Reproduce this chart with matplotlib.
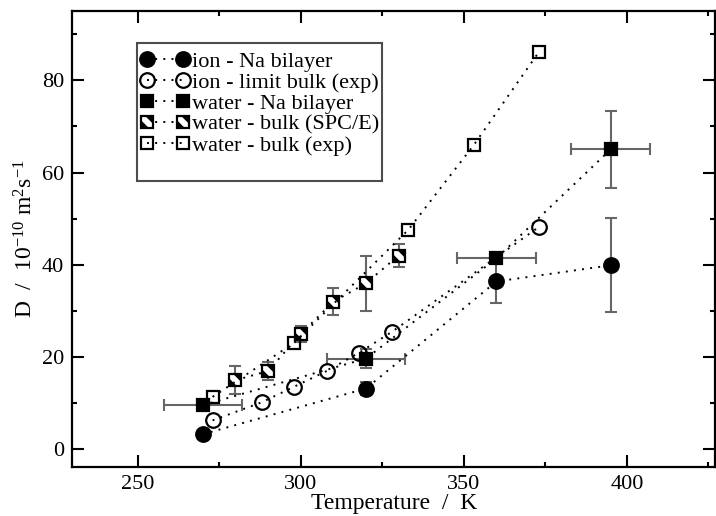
import numpy as np
import matplotlib
matplotlib.use("Agg")
import matplotlib.pyplot as plt
from matplotlib.path import Path
from matplotlib.patches import Rectangle
from matplotlib.ticker import MultipleLocator
from matplotlib.legend_handler import HandlerTuple

# ---- 字体 ----
plt.rcParams['font.family'] = ['Liberation Serif', 'DejaVu Serif']
plt.rcParams['mathtext.fontset'] = 'custom'
plt.rcParams['mathtext.rm'] = 'Liberation Serif'
plt.rcParams['mathtext.it'] = 'Liberation Serif:italic'

# ---- 数据 ----
ion_na_T = [270, 320, 360, 395]
ion_na_D = [3.3, 13.2, 36.4, 39.9]
ion_na_err = [0, 1.5, 4.7, 10.2]

ion_bulk_T = [273, 288, 298, 308, 318, 328, 373]
ion_bulk_D = [6.3, 10.2, 13.6, 17.0, 21.0, 25.5, 48.2]

wat_na_T = [270, 320, 360, 395]
wat_na_D = [9.6, 19.7, 41.4, 65.0]
wat_na_xerr = [12, 12, 12, 12]
wat_na_yerr = [0, 2.0, 0, 8.3]

spce_T = [280, 290, 300, 310, 320, 330]
spce_D = [15.0, 17.0, 25.0, 32.0, 36.0, 42.0]
spce_err = [3.0, 2.0, 1.7, 2.9, 6.0, 2.5]

exp_T = [273, 298, 333, 353, 373]
exp_D = [11.4, 23.1, 47.6, 65.9, 86.1]

labels = ['ion - Na bilayer', 'ion - limit bulk (exp)', 'water - Na bilayer',
          'water - bulk (SPC/E)', 'water - bulk (exp)']

# 斜纹方块: 两个黑三角, 中间留白
w = 0.35
tri_path = Path(
    [(-1, -1), (-1, w), (w, -1), (-1, -1),
     (1, 1), (1, -w), (-w, 1), (1, 1)],
    [Path.MOVETO, Path.LINETO, Path.LINETO, Path.CLOSEPOLY,
     Path.MOVETO, Path.LINETO, Path.LINETO, Path.CLOSEPOLY])

# ---- 画图 ----
W, H = 716, 516
fig = plt.figure(figsize=(W / 100, H / 100), dpi=100)
ax = fig.add_axes([72.3 / W, 49 / H, (715 - 72.3) / W, (467 - 11) / H])

ebkw = dict(fmt='none', ecolor='0.4', elinewidth=1.5, capsize=4.5, capthick=1.5, zorder=1)
ax.errorbar(ion_na_T, ion_na_D, yerr=ion_na_err, **ebkw)
ax.errorbar(wat_na_T, wat_na_D, xerr=wat_na_xerr, yerr=wat_na_yerr, **ebkw)
ax.errorbar(spce_T, spce_D, yerr=spce_err, **ebkw)

dot = (0, (1, 3.2))
lkw = dict(color='k', linestyle=dot, linewidth=1.4, markeredgecolor='k', markeredgewidth=1.6, zorder=3)

h1, = ax.plot(ion_na_T, ion_na_D, marker='o', markersize=10.5, markerfacecolor='k', **lkw)
h2, = ax.plot(ion_bulk_T, ion_bulk_D, marker='o', markersize=10.5, markerfacecolor='none', **lkw)
h3, = ax.plot(wat_na_T, wat_na_D, marker='s', markersize=9.3, markerfacecolor='k', **lkw)
h4a, = ax.plot(spce_T, spce_D, marker='s', markersize=9.3, markerfacecolor='white', **lkw)
h4b, = ax.plot(spce_T, spce_D, linestyle='none', marker=tri_path, markersize=9.3,
               markerfacecolor='k', markeredgewidth=0, zorder=4)
h5, = ax.plot(exp_T, exp_D, marker='s', markersize=9.3, markerfacecolor='none', **lkw)

ax.set_xlim(230, 427)
ax.set_ylim(-3.8, 95)
ax.xaxis.set_major_locator(MultipleLocator(50))
ax.xaxis.set_minor_locator(MultipleLocator(25))
ax.yaxis.set_major_locator(MultipleLocator(20))
ax.yaxis.set_minor_locator(MultipleLocator(10))
ax.tick_params(which='both', direction='in', top=True, right=True, width=1.5, labelsize=16)
ax.tick_params(which='major', length=8.6, pad=6)
ax.tick_params(which='minor', length=3.6)
for sp in ax.spines.values():
    sp.set_linewidth(1.6)

ax.set_xlabel('Temperature  /  K', fontsize=17, labelpad=-1)
ax.set_ylabel(r'D  /  10$^{-10}$ m$^{2}$s$^{-1}$', fontsize=17, labelpad=3)

# 图例 (无框, 框另外画)
leg = ax.legend([h1, h2, h3, (h4a, h4b), h5], labels,
                handler_map={tuple: HandlerTuple(ndivide=1)},
                loc='upper left', bbox_to_anchor=(140 / W, 1 - 51 / H),
                bbox_transform=fig.transFigure, borderaxespad=0, fontsize=16,
                numpoints=2, handlelength=2.25, handletextpad=0.1, borderpad=0,
                labelspacing=0.02, frameon=False)
leg.set_zorder(6)
frame = Rectangle((136.7 / W, 1 - 180.7 / H), (382 - 136.7) / W, (180.7 - 43.3) / H,
                  transform=fig.transFigure, facecolor='white', edgecolor='0.3',
                  linewidth=1.5, zorder=5)
ax.add_artist(frame)
frame.set_clip_on(False)

fig.savefig('out.png', dpi=100)
